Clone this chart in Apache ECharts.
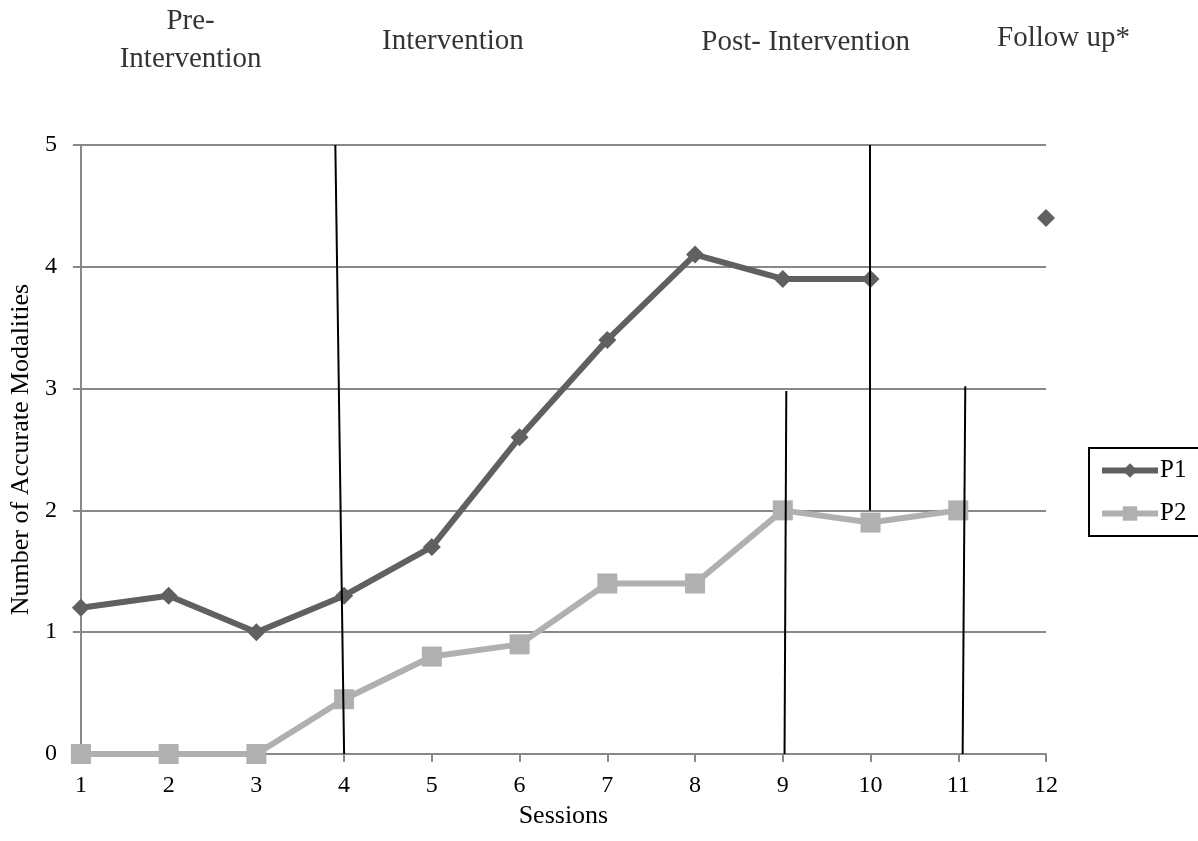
<!DOCTYPE html>
<html>
<head>
<meta charset="utf-8">
<script src="https://cdn.jsdelivr.net/npm/echarts@6/dist/echarts.min.js"></script>
<style>html,body{margin:0;padding:0;background:#fff}#c{width:1198px;height:841px}</style>
</head>
<body>
<div id="c"></div>
<script>
var sessions = [1,2,3,4,5,6,7,8,9,10,11,12];
var p1 = [1.2,1.3,1.0,1.3,1.7,2.6,3.4,4.1,3.9,3.9,'-',4.4];
var p2 = [0,0,0,0.45,0.8,0.9,1.4,1.4,2.0,1.9,2.0,'-'];
var phaseLabels = ['Pre-\nIntervention','Intervention','Post- Intervention','Follow up*'];
var phaseLabelX = [2.25, 5.24, 9.26, 12.2];
var phaseLabelY = [5.86, 5.854, 5.846, 5.878];
var phaseLines = [
  [[3.9,5],[4.0,0]],
  [[8.03,5.04],[8.03,2.0]],
  [[9.99,5],[9.99,2.0]],
  [[9.04,2.98],[9.02,0]],
  [[11.08,3.02],[11.05,0]]
];
var font = 'Liberation Serif';
function pairs(arr){ return sessions.map(function(s,i){ return [s, arr[i]]; }); }
var chart = echarts.init(document.getElementById('c'));
chart.setOption({
  animation:false,
  textStyle:{fontFamily:font,color:'#000'},
  grid:{left:80,right:152,top:145,bottom:87},
  legend:{
    orient:'vertical', left:1089, top:448, padding:[10,90,10,10], itemGap:18,
    borderColor:'#000', borderWidth:2,
    itemWidth:56, itemHeight:18,
    textStyle:{fontFamily:font,fontSize:25,color:'#000',padding:[0,0,0,-3]},
    data:[
      {name:'P1', lineStyle:{width:6}},
      {name:'P2', lineStyle:{width:6}}
    ]
  },
  xAxis:{
    type:'value', min:1, max:12, interval:1,
    name:'Sessions', nameLocation:'middle', nameGap:41,
    nameTextStyle:{fontFamily:font,fontSize:26,color:'#000'},
    axisLine:{lineStyle:{color:'#888',width:2}},
    axisTick:{show:true,length:8,lineStyle:{color:'#888',width:2}},
    axisLabel:{fontFamily:font,fontSize:24,color:'#000',margin:20},
    splitLine:{show:false}
  },
  yAxis:{
    type:'value', min:0, max:5, interval:1,
    name:'Number of Accurate Modalities', nameLocation:'middle', nameGap:42,
    nameTextStyle:{fontFamily:font,fontSize:26,color:'#000'},
    axisLine:{show:true,lineStyle:{color:'#888',width:2}},
    axisTick:{show:true,length:8,lineStyle:{color:'#888',width:2}},
    axisLabel:{fontFamily:font,fontSize:24,color:'#000',margin:24},
    splitLine:{lineStyle:{color:'#888',width:2}}
  },
  series:[
    {
      name:'P1', type:'line', data:pairs(p1), z:3,
      symbol:'diamond', symbolSize:18, connectNulls:false,
      lineStyle:{color:'#606060',width:6},
      itemStyle:{color:'#606060'}
    },
    {
      name:'P2', type:'line', data:pairs(p2), z:2,
      symbol:'rect', symbolSize:20, connectNulls:false,
      lineStyle:{color:'#b0b0b0',width:6},
      itemStyle:{color:'#b0b0b0'}
    },
    {
      name:'phases', type:'line', data:[], z:5, silent:true,
      markLine:{
        silent:true, symbol:['none','none'], label:{show:false},
        lineStyle:{color:'#000',width:2,type:'solid'},
        emphasis:{disabled:true},
        data:phaseLines.map(function(l){ return [{coord:l[0]},{coord:l[1]}]; })
      }
    },
    {
      name:'labels', type:'scatter', symbolSize:0, silent:true,
      data:phaseLabels.map(function(t,i){ return {value:[phaseLabelX[i],phaseLabelY[i]], label:{show:true, formatter:t}}; }),
      label:{show:true, position:'inside', fontFamily:font, fontSize:29, color:'#000', lineHeight:38, align:'center'},
      clip:false
    }
  ]
});
</script>
</body>
</html>
